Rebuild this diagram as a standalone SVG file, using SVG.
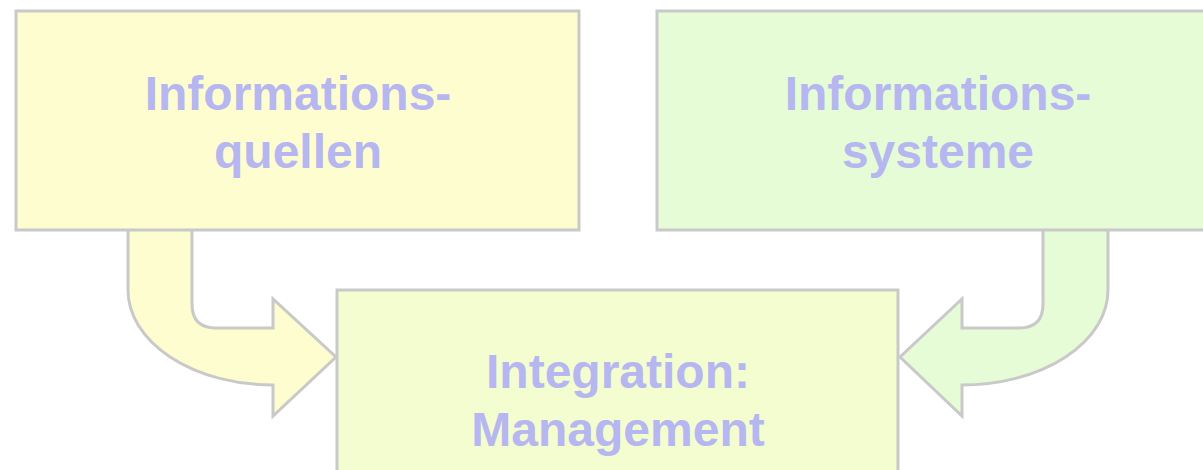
<svg xmlns="http://www.w3.org/2000/svg" width="1203" height="470" viewBox="0 0 1203 470">
<style>
.box{stroke:#c9c9c9;stroke-width:3}
.arrow{stroke:#c9c9c9;stroke-width:3;stroke-linejoin:miter}
.y{fill:#fdfdcf}
.g{fill:#e5fcd6}
.yg{fill:#f3fdcf}
.t{font-family:"Liberation Sans",Arial,sans-serif;font-weight:bold;font-size:48px;fill:#b6b6f0;text-anchor:middle}
</style>
<rect width="1203" height="470" fill="#ffffff"/>
<g id="connectors">
<path id="arrow-left" class="arrow y" d="M 128 226 L 128 290 A 145 95 0 0 0 273 385 L 273 416 L 336 357 L 273 299 L 273 328 L 216 328 Q 192 328 192 304 L 192 226 Z"/>
<path id="arrow-right" class="arrow g" d="M 1108 226 L 1108 290 A 146 95 0 0 1 962 385 L 962 416 L 900 357 L 962 299 L 962 328 L 1019 328 Q 1043 328 1043 304 L 1043 226 Z"/>
</g>
<g id="node-quellen">
<rect class="box y" x="16" y="11" width="563" height="219"/>
<text class="t" x="298" y="110">Informations-</text>
<text class="t" x="298" y="168">quellen</text>
</g>
<g id="node-systeme">
<rect class="box g" x="657" y="11" width="600" height="219"/>
<text class="t" x="938" y="110">Informations-</text>
<text class="t" x="938" y="168">systeme</text>
</g>
<g id="node-integration">
<rect class="box yg" x="337" y="290" width="561" height="220"/>
<text class="t" x="618" y="388">Integration:</text>
<text class="t" x="618" y="446">Management</text>
</g>
</svg>
